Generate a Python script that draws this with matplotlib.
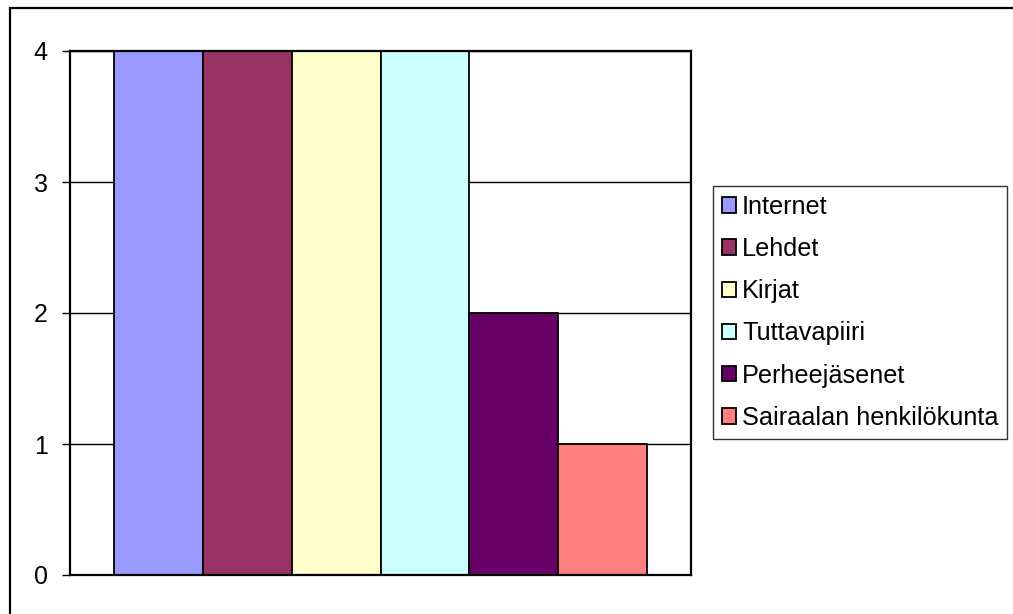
import numpy as np
import matplotlib.pyplot as plt
from matplotlib.patches import Rectangle

plt.rcParams['font.family'] = ['Liberation Sans', 'DejaVu Sans']

# data
series = ['Internet', 'Lehdet', 'Kirjat', 'Tuttavapiiri', 'Perheejäsenet', 'Sairaalan henkilökunta']
values = [4, 4, 4, 4, 2, 1]
colors = ['#9999FF', '#993366', '#FFFFCC', '#CCFFFF', '#660066', '#FF8080']
yticks = [0, 1, 2, 3, 4]

W, H = 1013, 614
fig = plt.figure(figsize=(W / 100, H / 100), dpi=100)

# outer chart border (right and bottom run off the image)
fig.patches.append(Rectangle((10 / W, -0.2), 1.5, 1.2 - 8 / H, transform=fig.transFigure,
                             fill=False, lw=1.6, ec='black'))

ax = fig.add_axes([70 / W, (H - 575) / H, 621 / W, 524 / H])
ax.set_axisbelow(True)
ax.yaxis.grid(True, color='black', lw=1)

x = np.arange(len(values)) + 1
handles = []
for xi, v, c, name in zip(x, values, colors, series):
    b = ax.bar(xi, v, width=1, color=c, edgecolor='black', lw=1.3, label=name)
    handles.append(b)

ax.set_xlim(0, len(values) + 1)
ax.set_ylim(0, 4)
ax.set_xticks([])
ax.set_yticks(yticks)
ax.tick_params(axis='y', direction='out', length=6, width=1, labelsize=18, pad=10)
for s in ax.spines.values():
    s.set_linewidth(1.6)
    s.set_color('black')

leg = fig.legend(handles=handles, loc='upper left',
                 bbox_to_anchor=(713 / W, 1 - 186 / H),
                 fontsize=18.2, frameon=True, fancybox=False,
                 handlelength=0.55, handleheight=0.55, handletextpad=0.25,
                 labelspacing=0.72, borderpad=0.35, borderaxespad=0)
leg.get_frame().set_edgecolor('black')
leg.get_frame().set_linewidth(1)

fig.savefig('out.png', dpi=100)
